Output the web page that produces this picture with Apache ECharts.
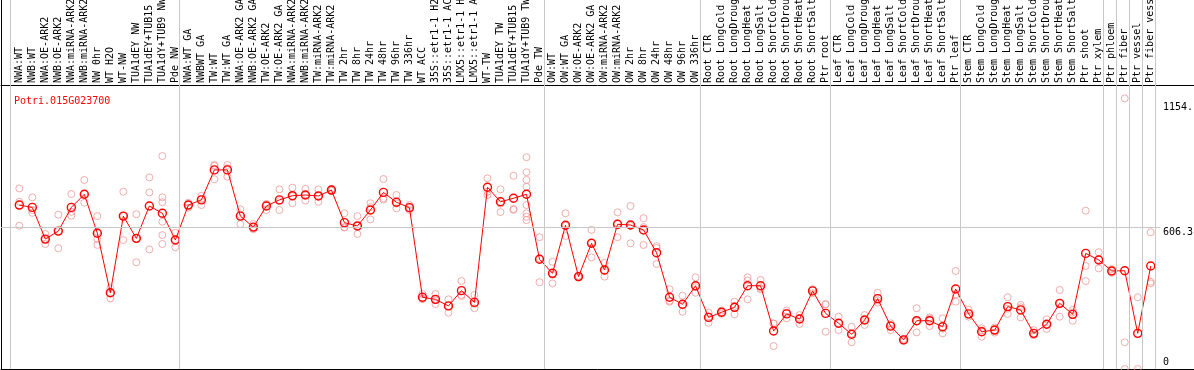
<!DOCTYPE html>
<html><head><meta charset="utf-8">
<script src="https://cdn.jsdelivr.net/npm/echarts@6/dist/echarts.min.js"></script>
<style>html,body{margin:0;padding:0;background:#fff}#c{width:1194px;height:370px}</style>
</head><body><div id="c"></div>
<script>
const geneId = 'Potri.015G023700';
const categories = [
 'NWA:WT','NWB:WT','NWA:OE-ARK2','NWB:OE-ARK2','NWA:miRNA-ARK2','NWB:miRNA-ARK2','NW 0hr','WT H2O','WT-NW',
 'TUA1dEY NW','TUA1dEY+TUB15 NW','TUA1dY+TUB9 NW','Pde NW','NWA:WT GA','NWBWT GA','TW:WT','TW:WT GA',
 'NWA:OE-ARK2 GA','NWB:OE-ARK2 GA','TW:OE-ARK2','TW:OE-ARK2 GA','NWA:miRNA-ARK2','NWB:miRNA-ARK2',
 'TW:miRNA-ARK2','TW:miRNA-ARK2','TW 2hr','TW 8hr','TW 24hr','TW 48hr','TW 96hr','TW 336hr','WT ACC',
 '35S::etr1-1 H2O','35S::etr1-1 ACC','LMX5::etr1-1 H2O','LMX5::etr1-1 ACC','WT-TW','TUA1dEY TW',
 'TUA1dEY+TUB15 TW','TUA1dY+TUB9 TW','Pde TW','OW:WT','OW:WT GA','OW:OE-ARK2','OW:OE-ARK2 GA',
 'OW:miRNA-ARK2','OW:miRNA-ARK2','OW 2hr','OW 8hr','OW 24hr','OW 48hr','OW 96hr','OW 336hr',
 'Root CTR','Root LongCold','Root LongDrought','Root LongHeat','Root LongSalt','Root ShortCold',
 'Root ShortDrought','Root ShortHeat','Root ShortSalt','Ptr root',
 'Leaf CTR','Leaf LongCold','Leaf LongDrought','Leaf LongHeat','Leaf LongSalt','Leaf ShortCold',
 'Leaf ShortDrought','Leaf ShortHeat','Leaf ShortSalt','Ptr leaf',
 'Stem CTR','Stem LongCold','Stem LongDrought','Stem LongHeat','Stem LongSalt','Stem ShortCold',
 'Stem ShortDrought','Stem ShortHeat','Stem ShortSalt','Ptr shoot',
 'Ptr xylem','Ptr phloem','Ptr fiber','Ptr vessel','Ptr fiber vessel'
];
const means = [
 699,689,554,588,689,745,579,325,652,557,695,664,550,699,721,849,849,652,605,695,721,739,742,738,763,
 624,610,678,753,711,688,306,297,269,334,284,775,713,728,745,468,408,613,394,536,422,617,614,593,496,
 306,276,355,220,242,263,355,355,162,235,213,333,237,195,148,209,300,183,124,206,206,180,341,235,159,
 166,266,252,152,191,280,233,493,465,418,419,152,439
];
const replicates = [
 [770,713,611],[732,678,666],[576,554,533],[658,588,515],[746,670,654],[806,746,709],[652,584,554,529],
 [345,324,301],[756,652,550],[660,557,455],[817,753,510],[908,732,711,628,571,533],[581,550,519],
 [709,688,699],[738,699,725],[870,809,866],[870,820,856],[681,618,658],[618,604,596],[704,678,700],
 [766,678,716],[773,707,737],[768,718,742],[766,713,738],[768,760,761],[664,604,604],[652,610,576],
 [707,638,690],[810,728,722],[742,685,706],[699,678,687],[320,300,298],[320,277,294],[297,240,269],
 [375,311,316],[316,259,278],[813,756,742],[766,669,705],[824,682,679],
 [903,839,806,777,699,664,649,635],[562,370,472],[457,365,402],[664,567,611],[394,390,398],
 [593,476,539],[453,394,419],[668,562,621],[695,536,611],[643,529,605],[524,448,516],[340,291,287],
 [313,244,271],[391,325,349],[240,197,223],[249,235,242],[287,233,269],[391,377,297],[380,340,345],
 [195,98,193],[249,216,240],[230,192,217],[340,323,336],[277,159,275],[223,166,196],[180,114,150],
 [230,188,209],[325,283,292],[195,166,188],[128,120,124],[259,156,203],[220,183,215],[216,152,172],
 [418,287,318],[252,223,230],[174,138,165],[166,155,177],[306,235,257],[273,220,263],[166,144,146],
 [212,171,190],[337,223,280],[252,206,241],[675,439,375],[498,429,468],[426,418,410],[1154,114,0],
 [306,0],[583,372,365]
];
// separators drawn after these category indices
const groupEnds = [-1, 12, 40, 52, 62, 72, 83, 84, 85, 86, 87];
const yTickValues = [0, 606.3, 1154];
const yTickLabels = ['0', '606.3', '1154.'];

// ---- layout / style constants ----
const X_MIN = -1.407, X_MAX = 90.327, SEP_OFFSET = 0.33, H_LINE_END = 87.71, Y_MAX = 1211;
const FONT = "'DejaVu Sans Mono', monospace";
const GRID_GRAY = '#c8c8c8';
// vertical placement of the right-hand tick labels relative to their line
const labelBelow = [false, true, true];
const labelLineHeights = [14, 12, 18];
const lineColors = ['rgba(0,0,0,0)', GRID_GRAY, 'rgba(0,0,0,0)'];

const catIdx = categories.map((_, i) => i);
const meanData = means.map((v, i) => [i, v]);
const repData = [];
replicates.forEach((arr, i) => arr.forEach(v => repData.push([i, v])));
const sepLines = groupEnds.map(g => ({ xAxis: g + SEP_OFFSET }));

const chart = echarts.init(document.getElementById('c'), null, { renderer: 'canvas' });
chart.setOption({
  animation: false,
  backgroundColor: '#fff',
  title: {
    text: geneId, left: 9, top: 91,
    textStyle: { color: '#ff0000', fontSize: 10, fontFamily: FONT, fontWeight: 'normal' }
  },
  grid: [
    { left: 1, right: 0, top: 0, height: 85, outerBoundsMode: 'none', containLabel: false },
    { left: 1, right: 0, top: 85, height: 284, outerBoundsMode: 'none', containLabel: false }
  ],
  xAxis: [
    { gridIndex: 0, type: 'value', min: X_MIN, max: X_MAX, show: false },
    { gridIndex: 1, type: 'value', position: 'top', min: X_MIN, max: X_MAX,
      axisLine: { show: true, onZero: false, lineStyle: { color: '#000', width: 1 } },
      axisTick: { show: false }, splitLine: { show: false },
      axisLabel: { customValues: catIdx, rotate: -90, align: 'left', verticalAlign: 'middle',
        margin: 2, fontSize: 10, fontFamily: FONT,
        color: '#000', hideOverlap: false, formatter: v => categories[Math.round(v)] || '' } },
    { gridIndex: 1, type: 'value', position: 'bottom', min: X_MIN, max: X_MAX,
      axisLine: { show: true, onZero: false, lineStyle: { color: '#000', width: 1 } },
      axisTick: { show: false }, splitLine: { show: false }, axisLabel: { show: false } }
  ],
  yAxis: [
    { gridIndex: 0, type: 'value', min: 0, max: 1,
      axisLine: { show: true, onZero: false, lineStyle: { color: '#000' } },
      axisTick: { show: false }, splitLine: { show: false }, axisLabel: { show: false } },
    { gridIndex: 1, type: 'value', min: 0, max: Y_MAX,
      axisLine: { show: true, onZero: false, lineStyle: { color: '#000' } },
      axisTick: { show: false }, splitLine: { show: false }, axisLabel: { show: false } }
  ],
  series: [
    { type: 'scatter', xAxisIndex: 0, yAxisIndex: 0, data: [[X_MIN - 5, -1]], silent: true,
      markLine: { silent: true, symbol: 'none', label: { show: false },
        lineStyle: { color: GRID_GRAY, width: 1, type: 'solid' }, data: sepLines } },
    { type: 'scatter', xAxisIndex: 1, yAxisIndex: 1, data: repData, z: 2, silent: true,
      symbol: 'circle', symbolSize: 7,
      itemStyle: { color: 'rgba(0,0,0,0)', borderColor: '#ee9898', borderWidth: 1 },
      markLine: { silent: true, symbol: 'none', label: { show: false },
        lineStyle: { color: GRID_GRAY, width: 1, type: 'solid' }, data: sepLines } },
    { type: 'line', xAxisIndex: 1, yAxisIndex: 1, data: meanData, z: 3, silent: true,
      symbol: 'circle', symbolSize: 8, showSymbol: true, showAllSymbol: true,
      lineStyle: { color: '#ff0000', width: 1 },
      itemStyle: { color: 'rgba(0,0,0,0)', borderColor: '#ff0000', borderWidth: 1.4 },
      markLine: { silent: true, symbol: 'none',
        data: yTickValues.map((v, k) => [
          { coord: [X_MIN, v],
            lineStyle: { color: lineColors[k], width: 1, type: 'solid' },
            label: { show: true, position: 'end', distance: 3,
              formatter: labelBelow[k] ? ' \n' + yTickLabels[k] : yTickLabels[k] + '\n ',
              lineHeight: labelLineHeights[k],
              color: '#000', fontSize: 10, fontFamily: FONT } },
          { coord: [H_LINE_END, v] }
        ]) } }
  ]
});
</script></body></html>
